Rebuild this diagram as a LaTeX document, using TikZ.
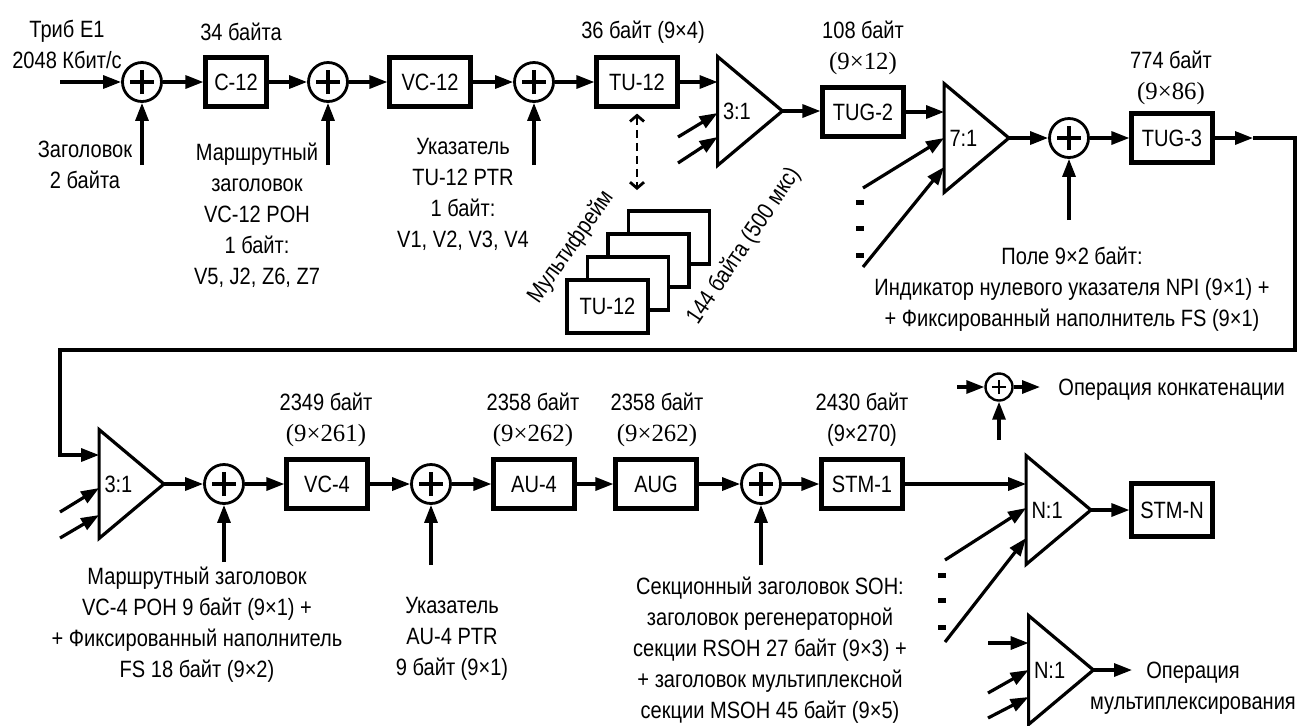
\documentclass[tikz,border=0pt]{standalone}
\usepackage{fontspec}
\setmainfont{Liberation Sans}[FakeStretch=0.85]
\newfontfamily\numrm{Liberation Serif}[Scale=1.05]
\usepackage{tikz}
\usetikzlibrary{arrows.meta}
\def\RowA{82}
\def\RowB{484}
\tikzset{
  blk/.style={
    draw, line width=2.1pt, minimum width=40.5pt, minimum height=24.5pt,
    inner sep=0pt, font=\fontsize{11.8}{15.5}\selectfont,
  },
  sum/.style={
    circle, draw, line width=1.4pt, minimum size=19.5pt, inner sep=0pt,
    path picture={\draw[line width=2.3pt]
      ([xshift=-6pt]path picture bounding box.center) -- ([xshift=6pt]path picture bounding box.center)
      ([yshift=-6pt]path picture bounding box.center) -- ([yshift=6pt]path picture bounding box.center);},
  },
  sumkey/.style={
    circle, draw, line width=1.2pt, minimum size=13.5pt, inner sep=0pt,
    path picture={\draw[line width=1pt]
      ([xshift=-3.6pt]path picture bounding box.center) -- ([xshift=3.6pt]path picture bounding box.center)
      ([yshift=-3.6pt]path picture bounding box.center) -- ([yshift=3.6pt]path picture bounding box.center);},
  },
  mux/.style={
    minimum width=32pt, minimum height=54pt, inner sep=0pt,
    text width=27pt, align=left, font=\fontsize{11.8}{15.5}\selectfont,
    append after command={\pgfextra{\draw[line width=1.6pt]
      (\tikzlastnode.north west) -- (\tikzlastnode.east) -- (\tikzlastnode.south west) -- cycle;}},
  },
  stack/.style={
    draw, fill=white, line width=1.75pt, minimum width=40.5pt, minimum height=26.5pt,
    inner sep=0pt, font=\fontsize{11.8}{15.5}\selectfont,
  },
  txt/.style={align=center, inner sep=0pt, font=\fontsize{11.8}{15.5}\selectfont},
  arr/.style={-{Triangle[length=9pt,width=6.5pt]}, line width=1.6pt},
  dbl/.style={{Straight Barb[length=3pt,width=7pt]}-{Straight Barb[length=3pt,width=7pt]},
    line width=1.4pt, dash pattern=on 4pt off 2.5pt},
  dot/.style={line width=2.5pt},
}

\begin{document}
\begin{tikzpicture}[x=0.5pt,y=-0.5pt]
  \useasboundingbox (0,0) rectangle (1300,725);

  % row 1: E1 up to TUG-3
  \node[sum] (s1) at (142,\RowA) {};
  \node[blk, minimum width=30.5pt] (c12) at (236,\RowA) {C-12};
  \node[sum] (s2) at (328,\RowA) {};
  \node[blk] (vc12) at (430,\RowA) {VC-12};
  \node[sum] (s3) at (534,\RowA) {};
  \node[blk] (tu12) at (637,\RowA) {TU-12};
  \node[mux] (m1) at (750,111) {3:1};
  \node[blk] (tug2) at (863,112) {TUG-2};
  \node[mux] (m2) at (976.5,138) {7:1};
  \node[sum] (s4) at (1069,138) {};
  \node[blk] (tug3) at (1172,138) {TUG-3};

  \coordinate (in1) at (60,\RowA);
  \coordinate (u1) at (142,165);
  \coordinate (u2) at (328,165);
  \coordinate (u3) at (534,165);
  \coordinate (u4) at (1069,220);
  \draw[arr] (in1) -- (s1);
  \draw[arr] (s1) -- (c12);
  \draw[arr] (c12) -- (s2);
  \draw[arr] (s2) -- (vc12);
  \draw[arr] (vc12) -- (s3);
  \draw[arr] (s3) -- (tu12);
  \draw[arr] (tu12.east) -- (tu12.east -| m1.west);
  \draw[arr] (m1.east) -- (m1.east -| tug2.west);
  \draw[arr] (tug2.east) -- (tug2.east -| m2.west);
  \draw[arr] (m2.east) -- (s4);
  \draw[arr] (s4) -- (tug3);
  \foreach \u/\s in {u1/s1,u2/s2,u3/s3,u4/s4}
    \draw[arr] (\u) -- (\s);

  % extra inputs of the multiplexers
  \coordinate (d1a) at (678,137);
  \coordinate (d1b) at (678,163);
  \draw[arr] (d1a) -- ([yshift=-1pt]m1.west);
  \draw[arr] (d1b) -- ([yshift=-13pt]m1.west);
  \coordinate (d2a) at (863,188);
  \coordinate (d2b) at (863,267);
  \draw[arr] (d2a) -- (m2.west);
  \draw[arr] (d2b) -- ([yshift=-14.5pt]m2.west);
  \foreach \y in {202,228,255}
    \draw[dot] (856,\y) -- (864,\y);

  % multiframe
  \coordinate (mf) at (637,190);
  \draw[dbl] ([yshift=-2.5pt]tu12.south) -- (mf);
  \foreach \k in {3,2,1}
    \node[stack] (mf\k) at ({607.5+20.5*\k},{306.5-23*\k}) {};
  \node[stack] (mf0) at (607.5,306.5) {TU-12};
  \node[txt, rotate=55] (mfl) at (571,247) {Мультифрейм};
  \node[txt, rotate=56] (mfd) at (744,246) {144 байта (500 мкс)};

  % row 1 labels
  \node[txt] (e1) at (67,44.5) {Триб E1\\2048 Кбит/с};
  \node[txt] (h1) at (85,165) {Заголовок\\2 байта};
  \node[txt] (n1) at (241,32) {34 байта};
  \node[txt] (h2) at (257,215) {Маршрутный\\заголовок\\VC-12 POH\\1 байт:\\V5, J2, Z6, Z7};
  \node[txt] (h3) at (463,194) {Указатель\\TU-12 PTR\\1 байт:\\V1, V2, V3, V4};
  \node[txt] (n2) at (643,32) {36 байт (9×4)};
  \node[txt] (n3) at (863,47.5) {108 байт\\{\numrm (9×12)}};
  \node[txt] (n4) at (1171,77.5) {774 байт\\{\numrm (9×86)}};
  \node[txt] (h4) at (1072,289.5) {Поле 9×2 байт:\\Индикатор нулевого указателя NPI (9×1) +\\+ Фиксированный наполнитель FS (9×1)};

  % return line to row 2
  \coordinate (fb0) at (1253,138);
  \coordinate (fb1) at (1295,350);
  \coordinate (fb2) at (60,350);

  % row 2: VC-4 up to STM-N
  \node[mux] (m3) at (131.5,\RowB) {3:1};
  \node[sum] (s5) at (224,\RowB) {};
  \node[blk] (vc4) at (327,\RowB) {VC-4};
  \node[sum] (s6) at (431,\RowB) {};
  \node[blk] (au4) at (534,\RowB) {AU-4};
  \node[blk] (aug) at (656,\RowB) {AUG};
  \node[sum] (s7) at (761,\RowB) {};
  \node[blk] (stm1) at (862,\RowB) {STM-1};
  \node[mux] (m4) at (1058.5,510) {N:1};
  \node[blk, minimum height=26.5pt] (stmn) at (1172,510) {STM-N};

  \draw[arr] (tug3) -- (fb0);
  \draw[arr] (fb0) -| (fb1) -- (fb2) |- ([yshift=14.5pt]m3.west);

  \coordinate (u5) at (224,562);
  \coordinate (u6) at (431,565);
  \coordinate (u7) at (761,565);
  \draw[arr] (m3.east) -- (s5);
  \draw[arr] (s5) -- (vc4);
  \draw[arr] (vc4) -- (s6);
  \draw[arr] (s6) -- (au4);
  \draw[arr] (au4) -- (aug);
  \draw[arr] (aug) -- (s7);
  \draw[arr] (s7) -- (stm1);
  \draw[arr] (stm1.east) -- (stm1.east -| m4.west);
  \draw[arr] (m4.east) -- (stmn);
  \foreach \u/\s in {u5/s5,u6/s6,u7/s7}
    \draw[arr] (\u) -- (\s);

  \coordinate (d3a) at (60,512);
  \coordinate (d3b) at (60,538);
  \draw[arr] (d3a) -- ([yshift=-2pt]m3.west);
  \draw[arr] (d3b) -- ([yshift=-15.5pt]m3.west);
  \coordinate (d4a) at (945,560);
  \coordinate (d4b) at (945,642);
  \draw[arr] (d4a) -- ([yshift=1pt]m4.west);
  \draw[arr] (d4b) -- ([yshift=-14pt]m4.west);
  \foreach \y in {575,600,627}
    \draw[dot] (938,\y) -- (946,\y);

  % row 2 labels
  \node[txt] (n5) at (326,420) {2349 байт\\{\numrm (9×261)}};
  \node[txt] (n6) at (533,420) {2358 байт\\{\numrm (9×262)}};
  \node[txt] (n7) at (657,420) {2358 байт\\{\numrm (9×262)}};
  \node[txt] (n8) at (862,420) {2430 байт\\(9×270)};
  \node[txt] (h5) at (197,624.5) {Маршрутный заголовок\\VC-4 POH 9 байт (9×1) +\\+ Фиксированный наполнитель\\FS 18 байт (9×2)};
  \node[txt] (h6) at (452,638.5) {Указатель\\AU-4 PTR\\9 байт (9×1)};
  \node[txt] (h7) at (770,650.5) {Секционный заголовок SOH:\\заголовок регенераторной\\секции RSOH 27 байт (9×3) +\\+ заголовок мультиплексной\\секции MSOH 45 байт (9×5)};

  % legend
  \node[sumkey] (sk) at (999,387) {};
  \coordinate (ka) at (957,387);
  \coordinate (kb) at (1040,387);
  \coordinate (kc) at (999,440);
  \draw[arr] (ka) -- (sk);
  \draw[arr] (sk) -- (kb);
  \draw[arr] (kc) -- (sk);
  \node[txt, anchor=west] (kt1) at (1058,390) {Операция конкатенации};

  \node[mux] (mk) at (1061,670) {N:1};
  \coordinate (k1) at (988,643);
  \coordinate (k2) at (988,693);
  \coordinate (k3) at (988,718);
  \coordinate (k4) at (1132,670);
  \draw[arr] (k1) -- ([yshift=13.5pt]mk.west);
  \draw[arr] (k2) -- (mk.west);
  \draw[arr] (k3) -- ([yshift=-13.5pt]mk.west);
  \draw[arr] (mk.east) -- (k4);
  \node[txt] (kt2) at (1193,688) {Операция\\мультиплексирования};
\end{tikzpicture}
\end{document}
